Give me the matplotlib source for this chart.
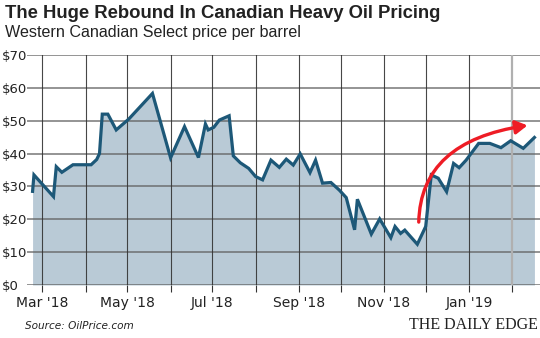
import matplotlib
matplotlib.use("Agg")
import matplotlib.pyplot as plt
import matplotlib.dates as mdates
from matplotlib.patches import FancyArrowPatch
import numpy as np
import pandas as pd

# WCS price per barrel
dates = ["2018-02-22", "2018-02-23", "2018-03-09", "2018-03-11", "2018-03-15",
         "2018-03-23", "2018-04-05", "2018-04-09", "2018-04-11", "2018-04-13",
         "2018-04-17", "2018-04-23", "2018-05-02", "2018-05-19", "2018-06-01",
         "2018-06-11", "2018-06-21", "2018-06-26", "2018-06-28", "2018-07-02",
         "2018-07-06", "2018-07-13", "2018-07-16", "2018-07-21", "2018-07-27",
         "2018-08-01", "2018-08-06", "2018-08-12", "2018-08-18", "2018-08-23",
         "2018-08-28", "2018-09-02", "2018-09-09", "2018-09-13", "2018-09-18",
         "2018-09-24", "2018-09-30", "2018-10-05", "2018-10-11", "2018-10-13",
         "2018-10-23", "2018-10-29", "2018-11-06", "2018-11-09", "2018-11-13",
         "2018-11-16", "2018-11-25", "2018-12-01", "2018-12-05", "2018-12-10",
         "2018-12-16", "2018-12-21", "2018-12-25", "2018-12-30", "2019-01-08",
         "2019-01-16", "2019-01-24", "2019-01-31", "2019-02-09", "2019-02-17"]
prices = [28.5, 33.5, 26.9, 36.0, 34.3,
          36.6, 36.6, 38.2, 40.0, 52.0,
          52.0, 47.2, 50.5, 58.3, 38.7,
          48.2, 38.8, 49.0, 47.2, 48.0,
          50.2, 51.5, 39.3, 37.2, 35.5,
          33.0, 32.0, 38.0, 35.8, 38.3,
          36.5, 39.9, 34.2, 38.0, 31.0,
          31.2, 28.9, 26.6, 16.8, 26.1,
          15.5, 20.1, 14.4, 17.8, 15.7,
          16.7, 12.4, 17.8, 33.5, 32.5,
          28.4, 37.0, 35.7, 38.0, 43.1,
          43.1, 41.8, 43.9, 41.6, 44.9]
yticks = [0, 10, 20, 30, 40, 50, 60, 70]
ylabels = ["$0", "$10", "$20", "$30", "$40", "$50", "$60", "$70"]
title = "The Huge Rebound In Canadian Heavy Oil Pricing"
subtitle = "Western Canadian Select price per barrel"
source = "Source: OilPrice.com"
brand = "THE DAILY EDGE"

x = pd.to_datetime(dates)
narrow = ["Liberation Sans Narrow", "DejaVu Sans"]

fig = plt.figure(figsize=(5.4, 3.38), dpi=100)
ax = fig.add_axes([27 / 540, 1 - 285 / 338, 513 / 540, 230 / 338])

ax.fill_between(x, prices, 0, color="#b9cad6", zorder=1, lw=0)
ax.plot(x, prices, color="#1d5878", lw=2.3, zorder=4, solid_joinstyle="miter")

ax.set_xlim(pd.Timestamp("2018-02-18"), pd.Timestamp("2019-02-21"))
ax.set_ylim(0, 70)

# gridlines
for v in yticks:
    ax.axhline(v, color="#5f5f5f", lw=1.1, zorder=2, alpha=0.85)
months = pd.date_range("2018-03-01", "2019-02-01", freq="MS")
for m in months:
    if m.month == 2:
        ax.axvline(m, color="#b0b0b0", lw=1.6, zorder=2)
    else:
        ax.axvline(m, color="#333333", lw=0.8, zorder=2, alpha=0.9)

for s in ax.spines.values():
    s.set_visible(False)

ax.set_yticks(yticks)
ax.set_yticklabels(ylabels, family=narrow, fontsize=9.5, color="#222222", ha="left")
ax.tick_params(axis="y", length=0, pad=18)

ax.set_xticks(months)
ax.set_xticklabels([m.strftime("%b '%y") if m.month % 2 == 1 else "" for m in months],
                   family=narrow, fontsize=10, color="#222222")
ax.tick_params(axis="x", length=5, width=0.8, color="#333333", pad=3)

# red rebound arrow
arrow = FancyArrowPatch((mdates.date2num(pd.Timestamp("2018-11-26")), 18.3),
                        (mdates.date2num(pd.Timestamp("2019-02-14")), 48.7),
                        connectionstyle="angle3,angleA=90,angleB=8",
                        arrowstyle="-|>,head_length=7,head_width=4",
                        color="#ee1c25", lw=2.4, zorder=5)
ax.add_patch(arrow)

fig.text(5 / 540, 1 - 13 / 338, title, family=["Liberation Sans", "DejaVu Sans"],
         fontsize=13.3, fontweight="bold", color="#222222", va="center")
fig.text(5 / 540, 1 - 33 / 338, subtitle, family=["Liberation Sans", "DejaVu Sans"],
         fontsize=11.6, color="#222222", va="center")
fig.text(25 / 540, 1 - 326 / 338, source, family=narrow, fontsize=7.6,
         style="italic", color="#222222", va="center")
fig.text(538 / 540, 1 - 325 / 338, brand, family=["Liberation Serif", "DejaVu Serif"],
         fontsize=11.5, color="#222222", va="center", ha="right")

fig.savefig("out.png", dpi=100)
